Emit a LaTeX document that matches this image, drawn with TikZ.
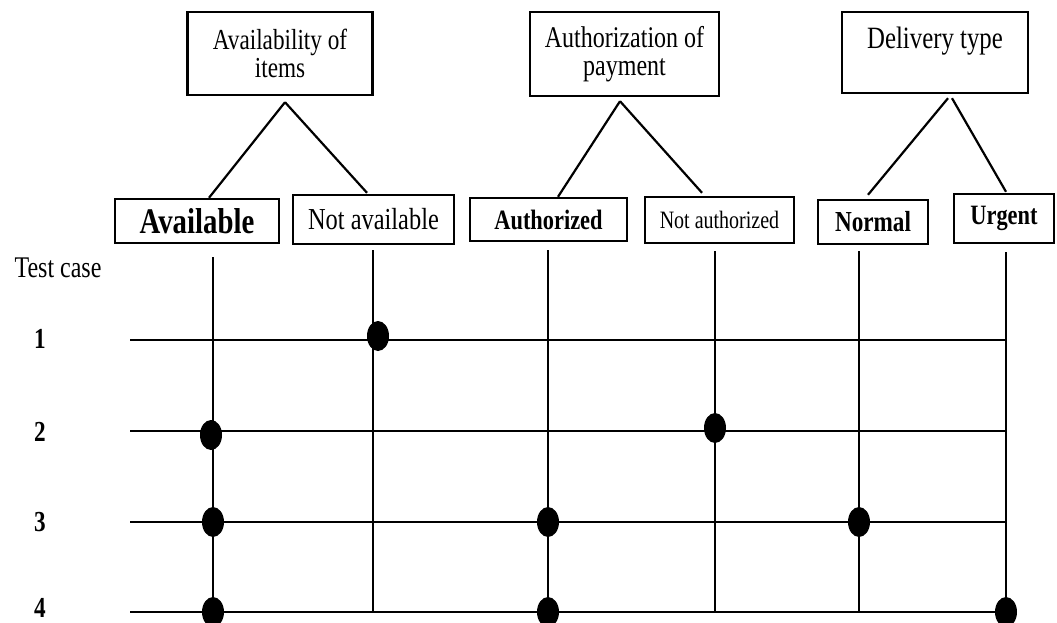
\documentclass[tikz,border=0pt]{standalone}
\usepackage{fontspec}
\setmainfont{Liberation Serif}[FakeStretch=0.8]
\usetikzlibrary{shapes.geometric}

\begin{document}
\begin{tikzpicture}[
            x=1pt, y=-1pt,
            box/.style={
                    draw,
                    line width=2.4pt,
                    inner sep=0pt,
                    align=center
                },
            head/.style={
                    box,
                    font=\fontsize{29}{28}\selectfont
                },
            link/.style={
                    line width=2.2pt
                },
            hit/.style={
                    ellipse,
                    fill=black,
                    inner sep=0pt,
                    minimum width=22pt,
                    minimum height=30pt
                },
            num/.style={
                    font=\bfseries\fontsize{29}{29}\selectfont
                }
        ]

        \useasboundingbox (0,0) rectangle (1057,623);


        \node[head, minimum width=185pt, minimum height=83pt]
        (avail) at (280,53.5)
        {Availability of\\items};


        \node[head, minimum width=189pt, minimum height=84pt, font=\fontsize{30}{28}\selectfont]
        (auth) at (624.5,54)
        {Authorization of\\payment};


        \node[head, minimum width=186pt, minimum height=81pt, font=\fontsize{31}{30}\selectfont]
        (deliv) at (935,52.5)
        {Delivery type\\\mbox{}};


        \node[box, minimum width=164pt, minimum height=44pt, font=\bfseries\fontsize{36}{36}\selectfont]
        (available) at (197,221)
        {Available};


        \node[box, minimum width=161pt, minimum height=49pt, font=\fontsize{30.5}{30}\selectfont]
        (notavail) at (373.5,219.5)
        {Not available};


        \node[box, minimum width=157pt, minimum height=43pt, font=\bfseries\fontsize{28}{28}\selectfont]
        (authd) at (548.5,219.5)
        {Authorized};


        \node[box, minimum width=149pt, minimum height=46pt, font=\fontsize{25}{25}\selectfont]
        (notauthd) at (719.5,220)
        {Not authorized};


        \node[box, minimum width=110pt, minimum height=44pt, font=\bfseries\fontsize{29}{29}\selectfont]
        (normal) at (873,222)
        {Normal};


        \node[box, minimum width=100pt, minimum height=49pt, font=\bfseries\fontsize{28}{28}\selectfont]
        (urgent) at (1004,218.5)
        {Urgent};


        \draw[link]([xshift=5pt,yshift=-6pt]avail.south)--([xshift=12pt]available.north);
        \draw[link]([xshift=5pt,yshift=-6pt]avail.south)--([xshift=-6.5pt,yshift=1pt]notavail.north);
        \draw[link]([xshift=-4.5pt,yshift=-4pt]auth.south)--([xshift=9.5pt]authd.north);
        \draw[link]([xshift=-4.5pt,yshift=-4pt]auth.south)--([xshift=-17.5pt,yshift=3pt]notauthd.north);
        \draw[link]([xshift=13pt,yshift=-4pt]deliv.south)--([xshift=-5pt,yshift=4pt]normal.north);
        \draw[link]([xshift=17pt,yshift=-4pt]deliv.south)--([xshift=2pt,yshift=1pt]urgent.north);


        \node[font=\fontsize{30}{30}\selectfont]
        (testcase) at (58,268)
        {Test case};


        \coordinate (c1) at (213,257);
        \coordinate (c2) at (373,250);
        \coordinate (c3) at (548,250);
        \coordinate (c4) at (715,251);
        \coordinate (c5) at (859,251);
        \coordinate (c6) at (1006,252);

        \coordinate (r1) at (130,340);
        \coordinate (r2) at (130,431);
        \coordinate (r3) at (130,522);
        \coordinate (r4) at (130,612);


        \foreach \c in {1,...,6}
        \draw[link](c\c)--(c\c |- r4);

        \foreach \r in {1,...,4}
        \draw[link](r\r)--(r\r -| c6);


        \foreach \r/\y in {1/339, 2/432, 3/522, 4/608}
        \node[num] (n\r) at (40,\y) {\r};


        \foreach \c/\r/\dx/\dy [count=\i] in {2/1/5/-4, 1/2/-2/4, 4/2/0/-3, 1/3/0/0, 3/3/0/0, 5/3/0/0, 1/4/0/0, 3/4/0/0, 6/4/0/0}
        \node[hit] (h\i) at ([xshift=\dx pt,yshift=-\dy pt]c\c |- r\r) {};


    \end{tikzpicture}
\end{document}
